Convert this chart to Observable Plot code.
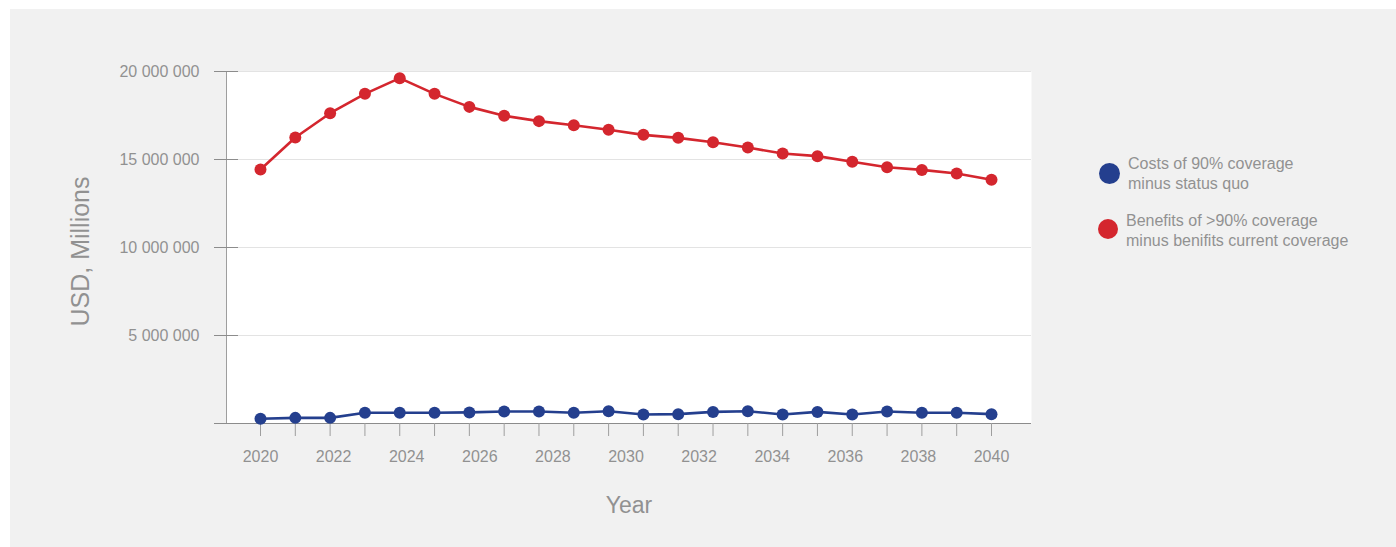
<!DOCTYPE html>
<html>
<head>
<meta charset="utf-8">
<script src="https://cdn.jsdelivr.net/npm/d3@7"></script>
<script src="https://cdn.jsdelivr.net/npm/@observablehq/plot@0.6"></script>
<style>
  html, body { margin: 0; padding: 0; background: #ffffff; width: 1396px; height: 547px; overflow: hidden; }
  body { position: relative; font-family: "Liberation Sans", Arial, sans-serif; color: #919191; }
  #panel { position: absolute; left: 10px; top: 9px; right: 0; bottom: 0; background: #f1f1f1; }
  #chart { position: absolute; left: 0; top: 0; }
  .swatch { position: absolute; border-radius: 50%; }
  .entry { position: absolute; font-size: 16px; line-height: 20px; white-space: nowrap; color: #919191; }
</style>
</head>
<body>
<div id="panel"></div>
<div id="chart"></div>
<div id="legend"></div>
<script>
// Series names
const seriesNames = [
  "Costs of 90% coverage minus status quo",
  "Benefits of >90% coverage minus benifits current coverage"
];
const seriesColors = ["#243f8e", "#d4262e"];

// Values (USD) per period, 22 periods
const costs = [
  270000, 320000, 320000, 610000, 610000, 610000, 630000, 680000, 680000, 610000, 700000,
  510000, 530000, 660000, 700000, 510000, 660000, 510000, 680000, 610000, 610000, 530000
];
const benefits = [
  14430000, 16250000, 17630000, 18730000, 19620000, 18730000, 17990000, 17480000, 17180000, 16950000, 16690000,
  16400000, 16230000, 15980000, 15680000, 15340000, 15190000, 14870000, 14560000, 14410000, 14200000, 13850000
];

// Axis tick labels
const yearLabels = [2020, 2022, 2024, 2026, 2028, 2030, 2032, 2034, 2036, 2038, 2040];
const yTicks = [0, 5000000, 10000000, 15000000, 20000000];

const periods = d3.range(benefits.length);
const lastPeriod = periods.length - 1;
// year labels are spread evenly across the span of the periods
const labelPos = yearLabels.map(y => (y - yearLabels[0]) / (yearLabels[yearLabels.length - 1] - yearLabels[0]) * lastPeriod);
const labelAt = new Map(labelPos.map((p, i) => [p, String(yearLabels[i])]));

const rows = [
  ...costs.map((v, i) => ({period: i, value: v, series: seriesNames[0]})),
  ...benefits.map((v, i) => ({period: i, value: v, series: seriesNames[1]}))
];

const spaced = d => d === 0 ? "" : d3.format(",")(d).replace(/,/g, " ");
const W = 1060, H = 547;
const plotLeft = 226, plotRight = 1031, plotTop = 71, plotBottom = 423;
const gray = "#919191";
const font = "'Liberation Sans', Arial, sans-serif";

const chart = Plot.plot({
  width: W,
  height: H,
  marginLeft: plotLeft,
  marginRight: W - plotRight,
  marginTop: plotTop,
  marginBottom: H - plotBottom,
  style: {background: "transparent", fontFamily: font, color: gray, overflow: "visible"},
  x: {type: "linear", domain: [0, lastPeriod], insetLeft: 34, insetRight: 40, axis: null},
  y: {domain: [0, 20000000], axis: null},
  color: {domain: seriesNames, range: seriesColors},
  marks: [
    Plot.frame({fill: "white", stroke: null}),
    Plot.gridY(yTicks.slice(1), {stroke: "#e3e3e3", strokeOpacity: 1}),
    Plot.frame({anchor: "left", stroke: "#9e9e9e"}),
    Plot.tickY(yTicks, {y: d => d, stroke: "#8c8c8c", dx: -12, insetRight: (plotRight - plotLeft) - 24}),
    Plot.ruleY([0], {stroke: "#8c8c8c"}),
    Plot.axisY(yTicks, {anchor: "left", label: null, tickSize: 0, tickPadding: 27, tickFormat: spaced, fontSize: 16, fill: gray}),
    Plot.axisX(periods, {anchor: "bottom", label: null, tickSize: 13, stroke: "#9e9e9e", strokeOpacity: 1, tickFormat: () => ""}),
    Plot.axisX(labelPos, {anchor: "bottom", label: null, tickSize: 0, tickPadding: 27, tickFormat: d => labelAt.get(d), fontSize: 16, fill: gray}),
    Plot.line(rows, {x: "period", y: "value", z: "series", stroke: "series", strokeWidth: 2.6}),
    Plot.dot(rows, {x: "period", y: "value", fill: "series", r: 6}),
    Plot.text(["USD, Millions"], {frameAnchor: "left", text: d => d, textAnchor: "middle", lineAnchor: "middle", rotate: -90, dx: -146, dy: 4, fontSize: 25, fill: gray}),
    Plot.text(["Year"], {frameAnchor: "bottom", text: d => d, lineAnchor: "middle", dy: 82, fontSize: 23, fill: gray})
  ]
});
document.getElementById("chart").appendChild(chart);

// Legend
const legend = document.getElementById("legend");
const entries = [
  {cx: 1109, cy: 173, r: 10.5, x: 1128, y: 154, lines: ["Costs of 90% coverage", "minus status quo"]},
  {cx: 1108, cy: 229, r: 10, x: 1126, y: 211, lines: ["Benefits of >90% coverage", "minus benifits current coverage"]}
];
entries.forEach((e, i) => {
  const sw = document.createElement("div");
  sw.className = "swatch";
  Object.assign(sw.style, {left: (e.cx - e.r) + "px", top: (e.cy - e.r) + "px", width: 2 * e.r + "px", height: 2 * e.r + "px", background: seriesColors[i]});
  legend.appendChild(sw);
  const t = document.createElement("div");
  t.className = "entry";
  Object.assign(t.style, {left: e.x + "px", top: e.y + "px"});
  t.innerHTML = e.lines.map(l => l.replace(/&/g, "&amp;").replace(/</g, "&lt;").replace(/>/g, "&gt;")).join("<br>");
  legend.appendChild(t);
});
</script>
</body>
</html>
